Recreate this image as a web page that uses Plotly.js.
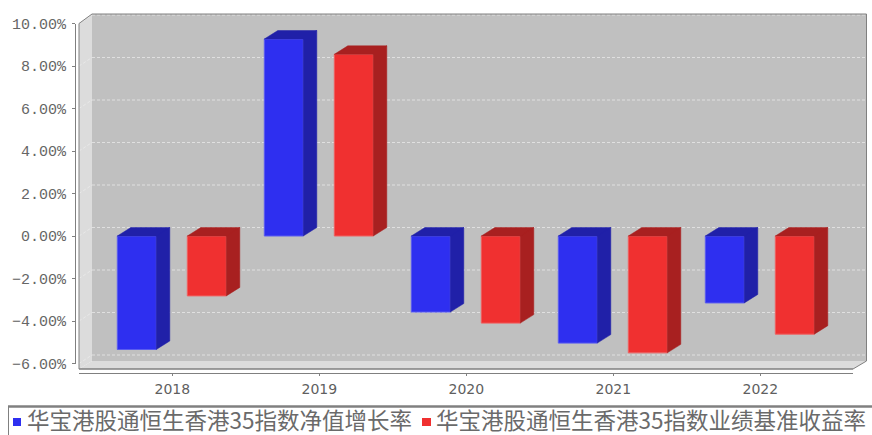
<!DOCTYPE html>
<html><head><meta charset="utf-8">
<script src="https://cdn.plot.ly/plotly-3.0.1.min.js"></script>
<style>html,body{margin:0;padding:0;background:#fff;overflow:hidden}</style>
</head><body><div id="chart" style="width:872px;height:435px"></div>
<script>
var years = ['2018','2019','2020','2021','2022'];
var blueName = '华宝港股通恒生香港35指数净值增长率';
var redName = '华宝港股通恒生香港35指数业绩基准收益率';
var blueValues = [-5.34, 9.27, -3.58, -5.04, -3.15];
var redValues = [-2.82, 8.55, -4.10, -5.50, -4.62];
var tickVals = [-6,-4,-2,0,2,4,6,8,10];
var tickLabels = ['\u22126.00%','\u22124.00%','\u22122.00%','0.00%','2.00%','4.00%','6.00%','8.00%','10.00%'];

// frame geometry (page pixels)
var W=872,H=435, L=75,R=867,T=14,B=373;
var PW=R-L, PH=B-T;
var FX0=79,FX1=853, Y10=23.5,Y_6=363.5;
var DXP=13.5, DYP=8.5, CAT=147, C0=172.3, BARW=39;
function px(x){return (x-L)/PW;}
function py(y){return (B-y)/PH;}
var unitY=(Y_6-Y10)/16;
function vy(v){return Y10+(10-v)*unitY;}
function poly(pts){return 'M'+pts.map(function(p){return px(p[0]).toFixed(5)+','+py(p[1]).toFixed(5);}).join('L')+'Z';}
function pshape(pts,fill,line,lw,layer){return {type:'path',xref:'paper',yref:'paper',path:poly(pts),fillcolor:fill,line:{color:line||'rgba(0,0,0,0)',width:lw||0},layer:layer||'below'};}
function lshape(x0,y0,x1,y1,color,w,dash){return {type:'line',xref:'paper',yref:'paper',x0:px(x0),y0:py(y0),x1:px(x1),y1:py(y1),line:{color:color,width:w,dash:dash||'solid'},layer:'below'};}

var shapes=[];
var BX0=FX0+13,BX1=FX1+13.5,BTOP=14,FLOORB=361,FLOORF=369;
shapes.push(pshape([[BX0,BTOP],[BX1,BTOP],[BX1,FLOORB],[BX0,FLOORB]],'#c0c0c0'));
shapes.push(pshape([[FX0,Y10],[BX0,BTOP],[BX0,FLOORB],[FX0,FLOORF]],'#dcdcdc'));
shapes.push(pshape([[FX0,FLOORF],[BX0,FLOORB],[BX1,FLOORB],[FX1,FLOORF]],'#dcdcdc'));
tickVals.forEach(function(v){
  var y=vy(v);
  shapes.push(lshape(BX0,y-DYP,BX1,y-DYP,'rgba(255,255,255,0.5)',1,'3px,2px'));
  shapes.push(lshape(FX0,y,BX0,y-DYP,'rgba(255,255,255,0.35)',1,'3px,2px'));
});
// frame outline
shapes.push(lshape(FX0,Y10,FX0,FLOORF,'#808080',1));
shapes.push(lshape(FX0,FLOORF,FX1,FLOORF,'#808080',1.5));
shapes.push(lshape(FX1,FLOORF,BX1,FLOORB,'#808080',1));
shapes.push(lshape(BX1,FLOORB,BX1,BTOP,'#808080',1));
shapes.push(lshape(BX1,BTOP,BX0,BTOP,'#808080',1));
shapes.push(lshape(BX0,BTOP,FX0,Y10,'#808080',1));
// legend frame and swatches
shapes.push({type:'line',xref:'paper',yref:'paper',x0:px(8),y0:py(406.5),x1:px(872),y1:py(406.5),line:{color:'#808080',width:2.5},layer:'above'});
shapes.push({type:'line',xref:'paper',yref:'paper',x0:px(8.5),y0:py(406),x1:px(8.5),y1:py(435),line:{color:'#808080',width:1},layer:'above'});
shapes.push(pshape([[13,418],[21,418],[21,426],[13,426]],'#2e2ff0',null,0,'above'));
shapes.push(pshape([[422,418],[431,418],[431,426],[422,426]],'#f03030',null,0,'above'));

var xIdx=years.map(function(_,i){return i;});
var barW=BARW/CAT, dx=DXP/CAT, dy=DYP/unitY;
function sideFaces(vals,off){
  var xs=[],ys=[];
  vals.forEach(function(v,i){
    var a=i+off,b=a+barW,hi=Math.max(v,0),lo=Math.min(v,0);
    xs.push(b,b+dx,b+dx,b,b,null); ys.push(hi,hi+dy,lo+dy,lo,hi,null);
    xs.push(a,b,b+dx,a+dx,a,null); ys.push(hi,hi,hi+dy,hi+dy,hi,null);
  });
  return {x:xs,y:ys};
}
var blueOff=-55/CAT, redOff=15/CAT;
var bs=sideFaces(blueValues,blueOff), rs=sideFaces(redValues,redOff);
function faceTrace(f,color){return {type:'scatter',x:f.x,y:f.y,mode:'lines',fill:'toself',fillcolor:color,line:{color:color,width:0.5},showlegend:false,hoverinfo:'skip',connectgaps:false};}
function barTrace(vals,name,color,edge,off){return {type:'bar',name:name,x:xIdx,y:vals,width:barW,offset:off,marker:{color:color,line:{color:edge,width:1}},showlegend:false};}

var data=[
  barTrace(blueValues,blueName,'#2e2ff0','#5a5cf0',blueOff),
  barTrace(redValues,redName,'#f03030','#f06060',redOff),
  faceTrace(bs,'#2020a8'),
  faceTrace(rs,'#a82020')
];
var legendFont={family:'Noto Sans CJK SC',size:22.5,color:'#6a6a6a'};
var layout={
  width:W,height:H,paper_bgcolor:'#fff',plot_bgcolor:'rgba(0,0,0,0)',
  margin:{l:L,r:W-R,t:T,b:H-B,pad:0},showlegend:false,barmode:'overlay',
  xaxis:{anchor:'free',position:0,domain:[px(FX0),px(FX1)],range:[(FX0-C0)/CAT,(FX1-C0)/CAT],
    tickmode:'array',tickvals:xIdx,ticktext:years,ticks:'outside',ticklen:2,tickcolor:'#808080',tickwidth:1,ticklabelstandoff:1,
    showline:true,linecolor:'#808080',linewidth:1,showgrid:false,zeroline:false,
    tickfont:{family:'DejaVu Sans',size:14,color:'#5f5f5f'}},
  yaxis:{anchor:'free',position:0,domain:[py(Y_6),py(Y10)],range:[-6,10],
    tickmode:'array',tickvals:tickVals,ticktext:tickLabels,ticks:'outside',ticklen:3,tickcolor:'#808080',tickwidth:1,ticklabelstandoff:3,
    showline:true,linecolor:'#808080',linewidth:1,showgrid:false,zeroline:false,
    tickfont:{family:'Liberation Mono',size:15,color:'#666'}},
  shapes:shapes,
  annotations:[
    {xref:'paper',yref:'paper',x:px(26),y:py(418.5),xanchor:'left',yanchor:'middle',showarrow:false,borderpad:0,text:blueName,font:legendFont},
    {xref:'paper',yref:'paper',x:px(435),y:py(418.5),xanchor:'left',yanchor:'middle',showarrow:false,borderpad:0,text:redName,font:legendFont}
  ]
};
Plotly.newPlot('chart',data,layout,{displayModeBar:false,staticPlot:true});
</script></body></html>
